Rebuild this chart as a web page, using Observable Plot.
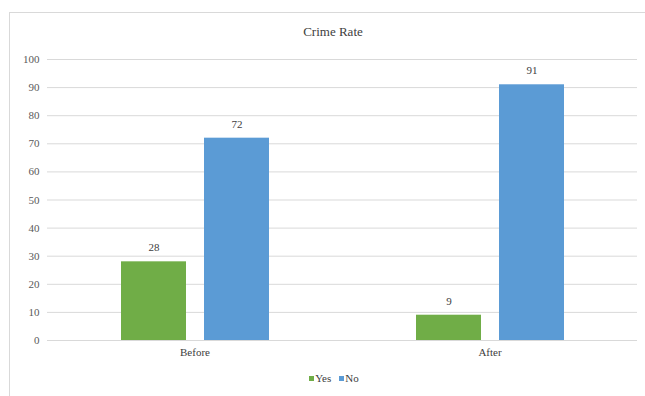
<!DOCTYPE html>
<html>
<head>
<meta charset="utf-8">
<script src="https://cdn.jsdelivr.net/npm/d3@7"></script>
<script src="https://cdn.jsdelivr.net/npm/@observablehq/plot@0.6"></script>
<style>
  html, body { margin: 0; padding: 0; background: #fff; }
  #wrap { position: relative; width: 645px; height: 396px; overflow: hidden; font-family: "Liberation Serif", "DejaVu Serif", serif; }
  #frame { position: absolute; left: 9px; top: 12px; width: 700px; height: 500px; border: 1px solid #D9D9D9; box-sizing: border-box; }
  #title { position: absolute; top: 24px; left: 233px; width: 200px; text-align: center; font-size: 13px; color: #404040; }
  #chart { position: absolute; left: 0; top: 0; }
  #legend { position: absolute; top: 372px; left: 0; width: 668px; text-align: center; font-size: 11px; color: #404040; }
  #legend span.sw { display: inline-block; width: 5px; height: 5px; margin-right: 1px; vertical-align: 1px; }
  #legend span.item { margin: 0 4px; }
</style>
</head>
<body>
<div id="wrap">
  <div id="frame"></div>
  <div id="chart"></div>
  <div id="title">Crime Rate</div>
  <div id="legend"></div>
</div>
<script>
// Survey answers before and after, grouped by period
const periods = ["Before", "After"];
const answers = ["Yes", "No"];
const yesValues = [28, 9];
const noValues = [72, 91];
const yTicks = [0, 10, 20, 30, 40, 50, 60, 70, 80, 90, 100];
const colors = ["#70AD47", "#5B9BD5"];

const rows = periods.flatMap((p, i) => [
  {period: p, answer: "Yes", value: yesValues[i]},
  {period: p, answer: "No", value: noValues[i]}
]);

const chart = Plot.plot({
  width: 645,
  height: 396,
  marginTop: 59,
  marginBottom: 56,
  marginLeft: 46,
  marginRight: 8,
  style: {fontFamily: "'Liberation Serif', 'DejaVu Serif', serif", fontSize: "11px", color: "#595959", background: "transparent"},
  fx: {domain: periods, paddingInner: 0, paddingOuter: 0, label: null},
  x: {domain: answers, paddingInner: 0.2216, paddingOuter: 0.88, axis: null},
  y: {domain: [0, 100], label: null},
  color: {domain: answers, range: colors},
  marks: [
    Plot.gridY(yTicks, {stroke: "#D9D9D9", strokeOpacity: 1}),
    Plot.axisY(yTicks, {tickSize: 0, tickPadding: 8, label: null}),
    Plot.axisFx({anchor: "bottom", tickSize: 0, tickPadding: 8, label: null, fill: "#404040"}),
    Plot.barY(rows, {fx: "period", x: "answer", y: "value", fill: "answer"}),
    Plot.text(rows, {fx: "period", x: "answer", y: "value", text: d => String(d.value), dy: -14, fill: "#404040"})
  ]
});
document.getElementById("chart").appendChild(chart);

// Legend below the plot
const legend = document.getElementById("legend");
answers.forEach((a, i) => {
  const item = document.createElement("span");
  item.className = "item";
  const sw = document.createElement("span");
  sw.className = "sw";
  sw.style.background = colors[i];
  item.appendChild(sw);
  item.appendChild(document.createTextNode(a));
  legend.appendChild(item);
});
</script>
</body>
</html>
